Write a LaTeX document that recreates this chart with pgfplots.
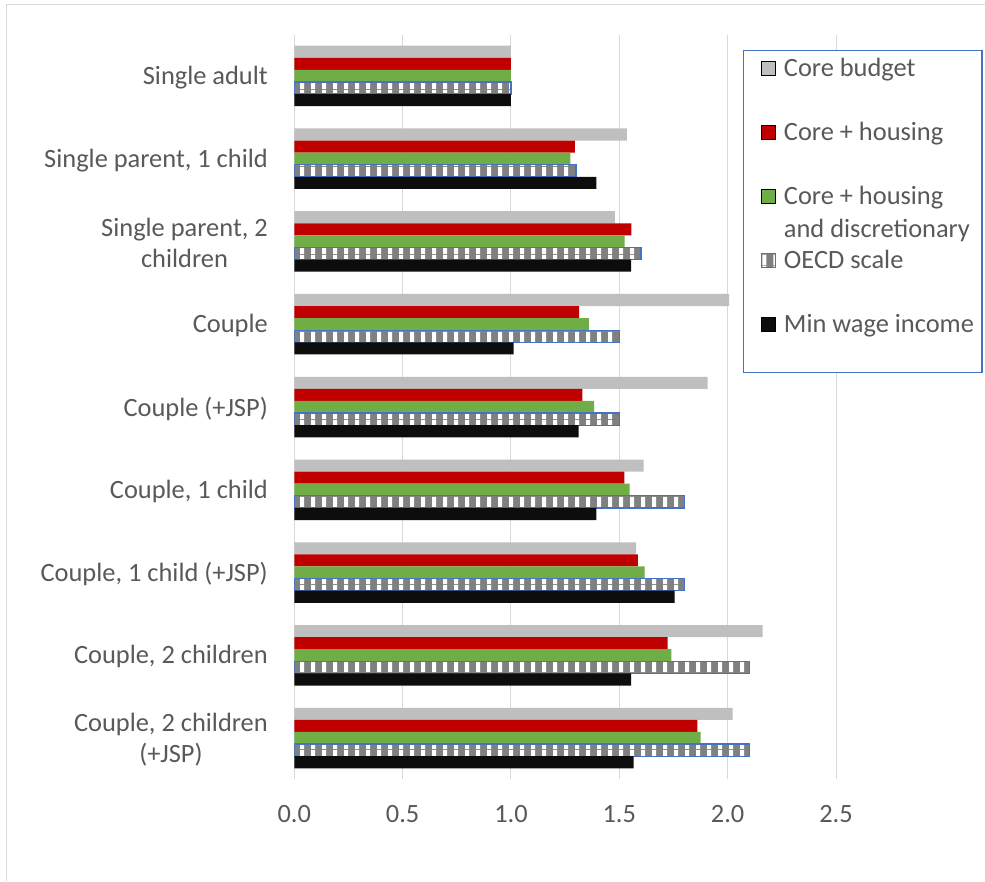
\documentclass[border=0pt]{standalone}
\usepackage{pgfplots}
\pgfplotsset{compat=1.18}
\usepackage{fontspec}
\setmainfont{Carlito}
\usetikzlibrary{patterns}
\definecolor{coregray}{HTML}{BFBFBF}
\definecolor{corered}{HTML}{C00000}
\definecolor{coregreen}{HTML}{70AD47}
\definecolor{oecdgray}{HTML}{808080}
\definecolor{oecdblue}{HTML}{4472C4}
\definecolor{minblack}{HTML}{0D0D0D}
\definecolor{gridgray}{HTML}{D9D9D9}
\definecolor{txt}{HTML}{595959}
\pgfdeclarepatternformonly{oecdstripes}{\pgfpointorigin}{\pgfpoint{11pt}{11pt}}{\pgfpoint{11pt}{11pt}}{\pgfpathrectangle{\pgfpoint{3.5pt}{0pt}}{\pgfpoint{4.3pt}{11pt}}\pgfusepath{fill}}
\newcommand{\lentry}[1]{\makebox[181pt][l]{#1}}
\begin{document}
\begin{tikzpicture}
\path[use as bounding box] (0,0) rectangle (985pt,881pt);
\fill[white] (0,0) rectangle (985pt,881pt);
\draw[gridgray, line width=1pt] (6pt,0pt) -- (6pt,876pt) -- (985pt,876pt);
\begin{axis}[
  at={(294.3pt,101.6pt)}, anchor=south west,
  scale only axis, width=541.7pt, height=744.8pt,
  xbar, bar width=12.1pt,
  xmin=0, xmax=2.5, ymin=-0.5, ymax=8.5,
  xtick={0,0.5,1,1.5,2,2.5},
  ytick={0,1,2,3,4,5,6,7,8},
  yticklabels={{Couple, 2 children\\(+JSP)},{Couple, 2 children},{Couple, 1 child (+JSP)},{Couple, 1 child},{Couple (+JSP)},{Couple},{Single parent, 2\\children},{Single parent, 1 child},{Single adult}},
  axis line style={draw=none},
  major tick length=0pt,
  xmajorgrids, grid style={gridgray, line width=1pt},
  tick label style={font=\fontsize{26.4}{31}\selectfont, text=txt},
  /pgf/number format/assume math mode=true,
  xticklabel style={inner sep=0pt, anchor=north, yshift=-25.6pt, /pgf/number format/fixed, /pgf/number format/fixed zerofill, /pgf/number format/precision=1},
  yticklabel style={inner sep=0pt, anchor=east, xshift=-26.3pt, yshift=-1.5pt, align=center},
  legend style={at={(0.8283,0.9793)}, anchor=north west, draw=oecdblue, line width=1.3pt, fill=white,
    inner xsep=17pt, inner ysep=6pt, row sep=10pt,
    /tikz/every odd column/.append style={column sep=8pt},
    nodes={inner sep=0pt, text height=20pt, text depth=34pt}, font=\fontsize{26.4}{33.3}\selectfont, text=txt},
  legend cell align=left,
  legend image code/.code={\draw[#1] (-2pt,8.4pt) rectangle (12pt,22.4pt);},
]
\addplot[fill=coregray, draw=none, bar shift=24.2pt] coordinates {
(1.000,8) (1.535,7) (1.480,6) (2.007,5) (1.907,4) (1.612,3) (1.578,2) (2.161,1) (2.023,0)};
\addlegendentry{\lentry{Core budget}}
\addplot[fill=corered, draw=none, bar shift=12.1pt] coordinates {
(1.000,8) (1.295,7) (1.556,6) (1.315,5) (1.330,4) (1.523,3) (1.586,2) (1.723,1) (1.860,0)};
\addlegendentry{\lentry{Core + housing}}
\addplot[fill=coregreen, draw=none, bar shift=0pt] coordinates {
(1.000,8) (1.274,7) (1.525,6) (1.360,5) (1.384,4) (1.547,3) (1.617,2) (1.740,1) (1.875,0)};
\addlegendentry{\lentry{\smash{\begin{tabular}[t]{@{}l@{}}Core + housing\\and discretionary\end{tabular}}}}
\addplot[preaction={fill=oecdgray}, pattern=oecdstripes, pattern color=white, draw=oecdblue, line width=1.3pt, bar shift=-12.1pt] coordinates {
(1.0,8) (1.3,7) (1.6,6) (1.5,5) (1.5,4) (1.8,3) (1.8,2) (2.1,1) (2.1,0)};
\addlegendentry{\lentry{OECD scale}}
\addplot[fill=minblack, draw=none, bar shift=-24.2pt] coordinates {
(1.000,8) (1.394,7) (1.554,6) (1.012,5) (1.312,4) (1.394,3) (1.755,2) (1.554,1) (1.566,0)};
\addlegendentry{\lentry{Min wage income}}
\end{axis}
\end{tikzpicture}
\end{document}
